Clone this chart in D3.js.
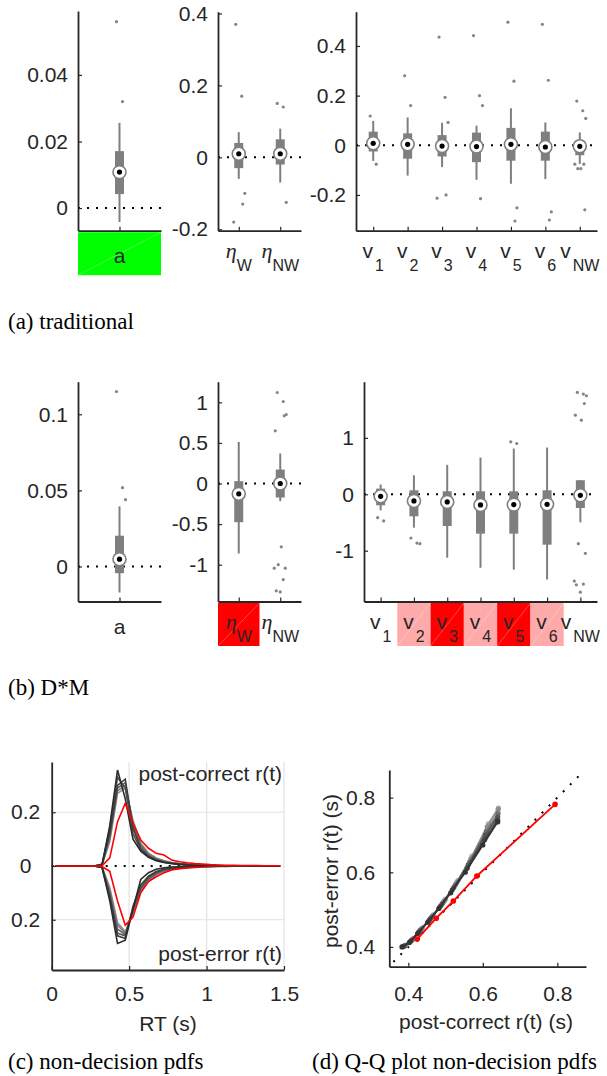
<!DOCTYPE html>
<html>
<head>
<meta charset="utf-8">
<script src="https://cdn.jsdelivr.net/npm/d3@7"></script>
<style>
body { margin: 0; background: #fff; }
svg text { font-family: "Liberation Sans", Arial, sans-serif; font-size: 21px; fill: #262626; }
</style>
</head>
<body>
<script>
// ---- (a) traditional : box stats are [lowWhisker, q1, median, q3, highWhisker]
var aCats = ["a"];
var tradATicks = [0, 0.02, 0.04];
var tradA = [[-0.0042, 0.0042, 0.0108, 0.0171, 0.0256]];
var tradAOut = [[0.056, 0.032]];
var tradASig = [2];

var etaCats = ["W", "NW"];
var tradEtaTicks = [-0.2, 0, 0.2, 0.4];
var tradEta = [[-0.06, -0.03, 0.01, 0.04, 0.07], [-0.07, -0.02, 0.01, 0.05, 0.08]];
var tradEtaOut = [[0.37, 0.17, -0.10, -0.13, -0.18], [0.15, 0.14, -0.125]];
var tradEtaSig = [0, 0];

var vCats = ["1", "2", "3", "4", "5", "6", "NW"];
var tradVTicks = [-0.2, 0, 0.2, 0.4];
var tradV = [
    [-0.063, -0.025, 0.008, 0.055, 0.098],
    [-0.122, -0.054, 0.004, 0.048, 0.112],
    [-0.088, -0.045, -0.003, 0.041, 0.091],
    [-0.139, -0.068, -0.005, 0.051, 0.079],
    [-0.155, -0.062, 0.004, 0.070, 0.149],
    [-0.136, -0.062, -0.007, 0.055, 0.092],
    [-0.075, -0.040, -0.004, 0.019, 0.052]
];
var tradVOut = [
    [0.118, -0.076], [0.28, 0.16], [0.436, 0.193, 0.092, -0.2, -0.213],
    [0.442, 0.2, 0.16, -0.215], [0.496, 0.258, -0.252, -0.305],
    [0.487, 0.262, -0.268, -0.301],
    [0.178, 0.139, 0.108, -0.076, -0.076, -0.094, -0.094, -0.26]
];
var tradVSig = [0, 0, 0, 0, 0, 0, 0];

// ---- (b) D*M
var dmATicks = [0, 0.05, 0.1];
var dmA = [[-0.0171, -0.0044, 0.0048, 0.0202, 0.0395]];
var dmAOut = [[0.1149, 0.0518, 0.0439]];
var dmASig = [0];

var dmEtaTicks = [-1, -0.5, 0, 0.5, 1];
var dmEta = [[-0.862, -0.476, -0.127, 0.029, 0.513], [-0.218, -0.172, 0, 0.172, 0.37]];
var dmEtaOut = [[], [1.121, 1.01, 0.85, 0.834, 0.649, -0.78, -1.0, -1.043, -1.043, -1.183, -1.322, -1.335]];
var dmEtaSig = [-2, 0];

var dmVTicks = [-1, 0, 1];
var dmV = [
    [-0.284, -0.195, -0.036, 0.1, 0.172],
    [-0.592, -0.39, -0.118, 0.071, 0.337],
    [-1.124, -0.562, -0.136, 0.053, 0.521],
    [-1.302, -0.698, -0.189, 0.053, 0.651],
    [-1.337, -0.698, -0.183, 0.053, 0.811],
    [-1.509, -0.893, -0.178, 0.071, 0.828],
    [-0.497, -0.243, -0.018, 0.249, 0.249]
];
var dmVOut = [
    [-0.414, -0.473], [-0.775, -0.864, -0.876], [], [], [0.929, 0.9], [],
    [1.805, 1.775, 1.746, 1.609, 1.402, 1.314, -0.876, -1.047, -1.538, -1.592, -1.604, -1.734]
];
var dmVSig = [0, -1, -2, -1, -2, -1, 0];

// ---- (c) non-decision pdfs
var rtBins = [0.025, 0.075, 0.125, 0.175, 0.225, 0.275, 0.325, 0.375, 0.425, 0.475,
    0.525, 0.575, 0.625, 0.675, 0.725, 0.775, 0.825, 0.875, 0.925, 0.975,
    1.025, 1.075, 1.125, 1.175, 1.225, 1.275, 1.325, 1.375, 1.425, 1.475];
var postCorrect = [
    [0, 0, 0, 0, 0, 0, 0.004, 0.15, 0.357, 0.25, 0.10, 0.055, 0.032, 0.02, 0.013, 0.009, 0.006, 0.004, 0.003, 0.002, 0.002, 0.001, 0.001, 0.001, 0.001, 0, 0, 0, 0, 0],
    [0, 0, 0, 0, 0, 0, 0.006, 0.12, 0.30, 0.323, 0.14, 0.065, 0.035, 0.022, 0.014, 0.01, 0.007, 0.005, 0.003, 0.002, 0.002, 0.001, 0.001, 0.001, 0.001, 0, 0, 0, 0, 0],
    [0, 0, 0, 0, 0, 0, 0.006, 0.14, 0.33, 0.29, 0.12, 0.06, 0.035, 0.022, 0.014, 0.01, 0.007, 0.005, 0.003, 0.002, 0.002, 0.001, 0.001, 0.001, 0.001, 0, 0, 0, 0, 0],
    [0, 0, 0, 0, 0, 0, 0.005, 0.11, 0.29, 0.31, 0.15, 0.075, 0.04, 0.025, 0.016, 0.011, 0.008, 0.005, 0.004, 0.003, 0.002, 0.001, 0.001, 0.001, 0.001, 0, 0, 0, 0, 0],
    [0, 0, 0, 0, 0, 0, 0.005, 0.10, 0.28, 0.30, 0.16, 0.08, 0.045, 0.028, 0.018, 0.012, 0.008, 0.006, 0.004, 0.003, 0.002, 0.002, 0.001, 0.001, 0.001, 0, 0, 0, 0, 0],
    [0, 0, 0, 0, 0, 0, 0.004, 0.09, 0.27, 0.29, 0.17, 0.085, 0.048, 0.03, 0.02, 0.013, 0.009, 0.006, 0.004, 0.003, 0.002, 0.002, 0.001, 0.001, 0.001, 0, 0, 0, 0, 0]
];
var postCorrectRef = [0, 0, 0, 0, 0, 0, 0.001, 0.03, 0.165, 0.233, 0.159, 0.097, 0.066, 0.047, 0.041, 0.022, 0.016, 0.012, 0.009, 0.007, 0.005, 0.004, 0.003, 0.003, 0.002, 0.002, 0.002, 0.001, 0.001, 0.001];
var postError = [
    [0, 0, 0, 0, 0, 0, 0.005, 0.13, 0.288, 0.276, 0.16, 0.05, 0.025, 0.012, 0.007, 0.004, 0.003, 0.002, 0.001, 0.001, 0.001, 0, 0, 0, 0, 0, 0, 0, 0, 0],
    [0, 0, 0, 0, 0, 0, 0.005, 0.11, 0.26, 0.27, 0.15, 0.07, 0.038, 0.02, 0.012, 0.008, 0.005, 0.003, 0.002, 0.002, 0.001, 0.001, 0, 0, 0, 0, 0, 0, 0, 0],
    [0, 0, 0, 0, 0, 0, 0.005, 0.12, 0.25, 0.26, 0.16, 0.08, 0.042, 0.024, 0.014, 0.009, 0.006, 0.004, 0.003, 0.002, 0.001, 0.001, 0, 0, 0, 0, 0, 0, 0, 0],
    [0, 0, 0, 0, 0, 0, 0.004, 0.10, 0.235, 0.255, 0.165, 0.085, 0.048, 0.028, 0.016, 0.01, 0.007, 0.005, 0.003, 0.002, 0.001, 0.001, 0.001, 0, 0, 0, 0, 0, 0, 0],
    [0, 0, 0, 0, 0, 0, 0.004, 0.09, 0.22, 0.25, 0.17, 0.09, 0.052, 0.03, 0.018, 0.011, 0.008, 0.005, 0.003, 0.002, 0.002, 0.001, 0.001, 0, 0, 0, 0, 0, 0, 0],
    [0, 0, 0, 0, 0, 0, 0.003, 0.08, 0.21, 0.245, 0.175, 0.095, 0.056, 0.033, 0.02, 0.012, 0.009, 0.006, 0.004, 0.002, 0.002, 0.001, 0.001, 0, 0, 0, 0, 0, 0, 0]
];
var postErrorRef = [0, 0, 0, 0, 0, 0, 0.002, 0.02, 0.13, 0.22, 0.19, 0.10, 0.058, 0.04, 0.025, 0.015, 0.01, 0.007, 0.005, 0.004, 0.003, 0.002, 0.002, 0.001, 0.001, 0.001, 0, 0, 0, 0];
var pdfXTicks = [0, 0.5, 1, 1.5];
var pdfYTicks = [-0.2, 0, 0.2];

// ---- (d) Q-Q plot
var qqX = [
    [0.383, 0.403, 0.425, 0.452, 0.482, 0.514, 0.553, 0.600, 0.640],
    [0.386, 0.406, 0.428, 0.456, 0.486, 0.518, 0.558, 0.605, 0.640],
    [0.388, 0.408, 0.431, 0.459, 0.490, 0.522, 0.561, 0.607, 0.640],
    [0.390, 0.410, 0.433, 0.462, 0.493, 0.526, 0.565, 0.610, 0.641],
    [0.392, 0.412, 0.436, 0.465, 0.497, 0.530, 0.568, 0.612, 0.641],
    [0.394, 0.414, 0.438, 0.467, 0.500, 0.533, 0.571, 0.615, 0.642]
];
var qqY = [
    [0.400, 0.412, 0.436, 0.466, 0.503, 0.545, 0.600, 0.673, 0.735],
    [0.401, 0.415, 0.440, 0.471, 0.509, 0.553, 0.611, 0.688, 0.740],
    [0.402, 0.417, 0.443, 0.475, 0.514, 0.559, 0.620, 0.700, 0.748],
    [0.403, 0.419, 0.446, 0.479, 0.519, 0.566, 0.628, 0.710, 0.757],
    [0.404, 0.421, 0.449, 0.483, 0.524, 0.572, 0.636, 0.722, 0.768],
    [0.405, 0.423, 0.451, 0.486, 0.528, 0.578, 0.643, 0.730, 0.772]
];
var qqRefX = [0.424, 0.475, 0.521, 0.584, 0.794];
var qqRefY = [0.421, 0.477, 0.523, 0.590, 0.782];
var qqTicks = [0.4, 0.6, 0.8];

var AXIS = "#262626", BOXGRAY = "#7f7f7f";
var lineGrays = ["#2b2b2b", "#3d3d3d", "#505050", "#656565", "#7a7a7a", "#909090"];
var qqGrays = ["#333333", "#444444", "#555555", "#707070", "#8c8c8c", "#a6a6a6"];
var sigColor = { "2": "#00ff00", "-1": "#ffaaaa", "-2": "#ff0000" };
var jitter = [-3, 3, 6, 4, -5, 1, -2, 5, -6, 3, -4, 0];

var svg = d3.select("body").append("svg")
    .attr("width", 607)
    .attr("height", 1076)
    .style("background", "#fff");

function styleAxis(g) {
    g.select(".domain").attr("stroke", AXIS).attr("stroke-width", 1.8);
    g.selectAll(".tick line").attr("stroke", AXIS).attr("stroke-width", 1.2);
}

//draws one box plot subplot
function boxPanel(p) {
    var y = d3.scaleLinear().domain(p.dom).range([p.yBot, p.yTop]);
    var x = d3.scalePoint().domain(p.cats).range([p.x0, p.x1]).padding(0.5);
    var g = svg.append("g");
    var step = x.step();

    //significance shading under the labels
    p.cats.forEach(function(c, i){
        if (!p.sig[i]) return;
        var rx = x(c) - step / 2, ry = p.yBot + 1.5;
        g.append("rect")
            .attr("x", rx).attr("y", ry)
            .attr("width", step).attr("height", 43)
            .attr("fill", sigColor[p.sig[i]]);
        g.append("line")
            .attr("x1", rx).attr("y1", ry + 43)
            .attr("x2", rx + step).attr("y2", ry)
            .attr("stroke", "rgba(255,255,255,0.45)").attr("stroke-width", 0.6);
    });

    //zero reference
    g.append("line")
        .attr("x1", p.x0).attr("x2", p.x1)
        .attr("y1", y(0)).attr("y2", y(0))
        .attr("stroke", "#000").attr("stroke-width", 2)
        .attr("stroke-dasharray", "2,7");

    var ay = g.append("g")
        .attr("transform", "translate(" + p.x0 + ",0)")
        .call(d3.axisLeft(y).tickValues(p.ticks).tickSizeInner(-4).tickSizeOuter(0)
            .tickPadding(10).tickFormat(function(d){ return String(d); }));
    styleAxis(ay);

    var ax = g.append("g")
        .attr("transform", "translate(0," + p.yBot + ")")
        .call(d3.axisBottom(x).tickSizeInner(-4).tickSizeOuter(0).tickFormat(""));
    styleAxis(ax);

    var items = g.selectAll(".item")
        .data(p.stats)
        .enter()
        .append("g");

    items.append("line")
        .attr("x1", function(d, i){ return x(p.cats[i]); })
        .attr("x2", function(d, i){ return x(p.cats[i]); })
        .attr("y1", function(d){ return y(d[0]); })
        .attr("y2", function(d){ return y(d[4]); })
        .attr("stroke", BOXGRAY).attr("stroke-width", 2);

    items.append("rect")
        .attr("x", function(d, i){ return x(p.cats[i]) - 4.5; })
        .attr("width", 9)
        .attr("y", function(d){ return y(d[3]); })
        .attr("height", function(d){ return y(d[1]) - y(d[3]); })
        .attr("fill", BOXGRAY);

    items.append("circle")
        .attr("cx", function(d, i){ return x(p.cats[i]); })
        .attr("cy", function(d){ return y(d[2]); })
        .attr("r", 6.5)
        .attr("fill", "#fff").attr("stroke", BOXGRAY).attr("stroke-width", 1.6);

    items.append("circle")
        .attr("cx", function(d, i){ return x(p.cats[i]); })
        .attr("cy", function(d){ return y(d[2]); })
        .attr("r", 2.6)
        .attr("fill", "#000");

    //outliers
    p.out.forEach(function(vals, i){
        g.selectAll(null)
            .data(vals)
            .enter()
            .append("circle")
            .attr("cx", function(d, j){ return x(p.cats[i]) + jitter[j % jitter.length]; })
            .attr("cy", function(d){ return y(d); })
            .attr("r", 1.6)
            .attr("fill", "#858585");
    });

    //category labels
    p.cats.forEach(function(c){
        var t = g.append("text")
            .attr("x", x(c))
            .attr("y", p.yBot + 27)
            .attr("text-anchor", "middle");
        if (p.kind === "plain") {
            t.attr("y", p.yBot + 32).text(c);
        } else if (p.kind === "eta") {
            t.append("tspan")
                .style("font-family", "'Liberation Serif', serif")
                .style("font-style", "italic")
                .style("font-size", "22px")
                .text("\u03b7");
            t.append("tspan").attr("dy", 13).style("font-size", "16px").text(c);
        } else {
            t.append("tspan").text("v");
            t.append("tspan").attr("dx", 2).attr("dy", 13).style("font-size", "16px").text(c);
        }
    });
}

// (a) traditional
boxPanel({ x0: 78, x1: 161, yTop: 11, yBot: 230.7, dom: [-0.0068, 0.0592], ticks: tradATicks,
    cats: aCats, stats: tradA, out: tradAOut, sig: tradASig, kind: "plain" });
boxPanel({ x0: 218, x1: 301, yTop: 11.7, yBot: 230.7, dom: [-0.204, 0.405], ticks: tradEtaTicks,
    cats: etaCats, stats: tradEta, out: tradEtaOut, sig: tradEtaSig, kind: "eta" });
boxPanel({ x0: 356, x1: 597, yTop: 11.7, yBot: 230.7, dom: [-0.344, 0.538], ticks: tradVTicks,
    cats: vCats, stats: tradV, out: tradVOut, sig: tradVSig, kind: "v" });

// (b) D*M
boxPanel({ x0: 78, x1: 161, yTop: 381.7, yBot: 601.5, dom: [-0.023, 0.1214], ticks: dmATicks,
    cats: aCats, stats: dmA, out: dmAOut, sig: dmASig, kind: "plain" });
boxPanel({ x0: 218, x1: 301, yTop: 381.7, yBot: 601.5, dom: [-1.453, 1.254], ticks: dmEtaTicks,
    cats: etaCats, stats: dmEta, out: dmEtaOut, sig: dmEtaSig, kind: "eta" });
boxPanel({ x0: 364, x1: 597, yTop: 381.7, yBot: 601.5, dom: [-1.9, 1.995], ticks: dmVTicks,
    cats: vCats, stats: dmV, out: dmVOut, sig: dmVSig, kind: "v" });

// (c) non-decision pdfs
(function(){
    var x = d3.scaleLinear().domain([0, 1.5]).range([51.7, 284]);
    var y = d3.scaleLinear().domain([-0.387, 0.387]).range([970, 762]);
    var g = svg.append("g");

    //grid
    g.selectAll(".vg").data([0.5, 1, 1.5]).enter().append("line")
        .attr("x1", x).attr("x2", x).attr("y1", y(-0.387)).attr("y2", y(0.387))
        .attr("stroke", "#e2e2e2").attr("stroke-width", 1.2);
    g.selectAll(".hg").data([-0.2, 0.2]).enter().append("line")
        .attr("x1", x(0)).attr("x2", x(1.5)).attr("y1", y).attr("y2", y)
        .attr("stroke", "#e2e2e2").attr("stroke-width", 1.2);

    g.append("line")
        .attr("x1", x(0)).attr("x2", x(1.5)).attr("y1", y(0)).attr("y2", y(0))
        .attr("stroke", "#000").attr("stroke-width", 2).attr("stroke-dasharray", "2,7");

    var up = d3.line().x(function(d, i){ return x(rtBins[i]); }).y(function(d){ return y(d); });
    var down = d3.line().x(function(d, i){ return x(rtBins[i]); }).y(function(d){ return y(-d); });

    postError.slice().reverse().forEach(function(c, k){
        g.append("path").attr("d", down(c)).attr("fill", "none")
            .attr("stroke", lineGrays[lineGrays.length - 1 - k]).attr("stroke-width", 1.6);
    });
    g.append("path").attr("d", down(postErrorRef)).attr("fill", "none")
        .attr("stroke", "#ff0000").attr("stroke-width", 1.6);
    postCorrect.slice().reverse().forEach(function(c, k){
        g.append("path").attr("d", up(c)).attr("fill", "none")
            .attr("stroke", lineGrays[lineGrays.length - 1 - k]).attr("stroke-width", 1.6);
    });
    g.append("path").attr("d", up(postCorrectRef)).attr("fill", "none")
        .attr("stroke", "#ff0000").attr("stroke-width", 1.6);

    var ay = g.append("g").attr("transform", "translate(" + x(0) + ",0)")
        .call(d3.axisLeft(y).tickValues(pdfYTicks).tickSizeInner(-4).tickSizeOuter(0)
            .tickFormat(function(d){ return String(Math.abs(d)); }));
    ay.selectAll(".tick text").attr("text-anchor", "middle").attr("x", -26);
    styleAxis(ay);
    var ax = g.append("g").attr("transform", "translate(0," + y(-0.387) + ")")
        .call(d3.axisBottom(x).tickValues(pdfXTicks).tickSizeInner(-4).tickSizeOuter(0)
            .tickPadding(16).tickFormat(function(d){ return String(d); }));
    styleAxis(ax);

    g.append("text").attr("x", 282).attr("y", 781).attr("text-anchor", "end").text("post-correct r(t)");
    g.append("text").attr("x", 282).attr("y", 961).attr("text-anchor", "end").text("post-error r(t)");
    g.append("text").attr("x", 168).attr("y", 1031).attr("text-anchor", "middle").text("RT (s)");
})();

// (d) Q-Q plot
(function(){
    var x = d3.scaleLinear().domain([0.349, 0.877]).range([389.3, 586]);
    var y = d3.scaleLinear().domain([0.347, 0.874]).range([966.7, 770]);
    var g = svg.append("g");

    g.append("line")
        .attr("x1", x(0.36)).attr("y1", y(0.36)).attr("x2", x(0.872)).attr("y2", y(0.872))
        .attr("stroke", "#000").attr("stroke-width", 2).attr("stroke-dasharray", "2,8");

    var line = d3.line();
    qqX.slice().reverse().forEach(function(xs, k){
        var idx = qqX.length - 1 - k;
        var pts = xs.map(function(v, i){ return [x(v), y(qqY[idx][i])]; });
        g.append("path").attr("d", line(pts)).attr("fill", "none")
            .attr("stroke", qqGrays[idx]).attr("stroke-width", 1.8);
        g.selectAll(null).data(pts).enter().append("circle")
            .attr("cx", function(d){ return d[0]; }).attr("cy", function(d){ return d[1]; })
            .attr("r", 2.6).attr("fill", qqGrays[idx]);
    });
    var refPts = qqRefX.map(function(v, i){ return [x(v), y(qqRefY[i])]; });
    g.append("path").attr("d", line(refPts)).attr("fill", "none")
        .attr("stroke", "#ff0000").attr("stroke-width", 1.8);
    g.selectAll(null).data(refPts).enter().append("circle")
        .attr("cx", function(d){ return d[0]; }).attr("cy", function(d){ return d[1]; })
        .attr("r", 2.8).attr("fill", "#ff0000");

    var ay = g.append("g").attr("transform", "translate(389.3,0)")
        .call(d3.axisLeft(y).tickValues(qqTicks).tickSizeInner(-4).tickSizeOuter(0)
            .tickPadding(14).tickFormat(function(d){ return String(d); }));
    styleAxis(ay);
    var ax = g.append("g").attr("transform", "translate(0,966.7)")
        .call(d3.axisBottom(x).tickValues(qqTicks).tickSizeInner(-4).tickSizeOuter(0)
            .tickPadding(19).tickFormat(function(d){ return String(d); }));
    styleAxis(ax);

    g.append("text").attr("transform", "translate(338,871) rotate(-90)")
        .attr("text-anchor", "middle").text("post-error r(t) (s)");
    g.append("text").attr("x", 486).attr("y", 1029)
        .attr("text-anchor", "middle").text("post-correct r(t) (s)");
})();

//panel captions
var captions = [
    { t: "(a) traditional", x: 8, y: 329 },
    { t: "(b) D*M", x: 8, y: 695 },
    { t: "(c) non-decision pdfs", x: 8, y: 1069 },
    { t: "(d) Q-Q plot non-decision pdfs", x: 312, y: 1069 }
];
svg.selectAll(".cap").data(captions).enter().append("text")
    .attr("x", function(d){ return d.x; })
    .attr("y", function(d){ return d.y; })
    .style("font-family", "'Liberation Serif', 'Times New Roman', serif")
    .style("font-size", "23px")
    .style("fill", "#000")
    .text(function(d){ return d.t; });
</script>
</body>
</html>
